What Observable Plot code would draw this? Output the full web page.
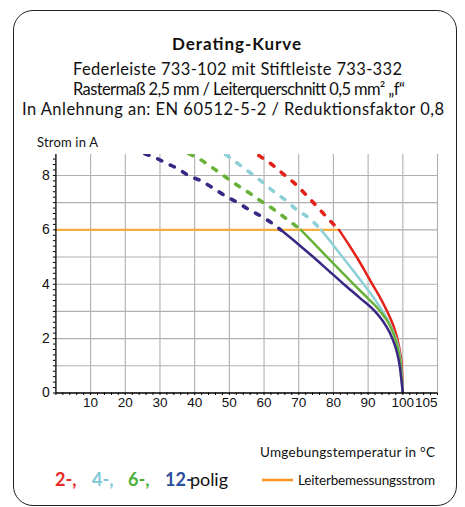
<!DOCTYPE html>
<html><head><meta charset="utf-8">
<script src="https://cdn.jsdelivr.net/npm/d3@7"></script>
<script src="https://cdn.jsdelivr.net/npm/@observablehq/plot@0.6"></script>
<style>
html,body{margin:0;padding:0;background:#fff;}
#page{position:relative;width:465px;height:507px;overflow:hidden;background:#fff;}
#frame{position:absolute;left:13px;top:10px;width:444px;height:496px;box-sizing:border-box;border:1.6px solid #222;border-radius:20px;}
#chart{position:absolute;left:0;top:140px;}
#overlay{position:absolute;left:0;top:0;pointer-events:none;}
</style></head>
<body><div id="page"><div id="frame"></div><div id="chart"></div><svg id="overlay" width="465" height="507"></svg></div>
<script>
// ---- data ----
const seriesNames = ["2-polig", "4-polig", "6-polig", "12-polig"];
const lineColors = ["#e3231b", "#8ed0d8", "#68b23a", "#3a2785"];
const legendColors = ["#e52b24", "#7ec8d8", "#4daf3a", "#2c4e9c"];
const legendLabels = ["2-,", "4-,", "6-,", "12-"];

// Umgebungstemperatur (°C) and Strom (A) per series
const temp2 = [58.5, 61.9, 65.4, 68.9, 72.3, 75.8, 79.2, 81.6, 84.2, 86.7, 89.0, 91.2, 93.5, 95.5, 97.2, 98.4, 99.2, 99.7, 100];
const amps2 = [8.73, 8.44, 8.07, 7.70, 7.26, 6.78, 6.31, 6.0, 5.5, 5.0, 4.5, 4.0, 3.5, 3.0, 2.5, 2.0, 1.5, 1.0, 0];
const temp4 = [48.9, 52.1, 55.6, 59.0, 62.5, 66.0, 69.4, 73.2, 76.4, 79.6, 82.6, 85.7, 88.7, 91.6, 94.2, 96.4, 98.0, 99.0, 99.5, 100];
const amps4 = [8.77, 8.47, 8.14, 7.81, 7.44, 7.11, 6.74, 6.41, 6.0, 5.5, 5.0, 4.5, 4.0, 3.5, 3.0, 2.5, 2.0, 1.5, 1.0, 0];
const temp6 = [38.3, 41.7, 45.5, 48.7, 52.4, 55.6, 59.3, 62.8, 66.3, 70.6, 74.4, 78.2, 82.0, 85.8, 89.8, 93.5, 96.2, 97.8, 98.8, 99.4, 100];
const amps6 = [8.80, 8.58, 8.25, 7.96, 7.63, 7.37, 7.04, 6.75, 6.42, 6.0, 5.5, 5.0, 4.5, 4.0, 3.5, 3.0, 2.5, 2.0, 1.5, 1.0, 0];
const temp12 = [25.6, 28.7, 32.2, 35.1, 38.3, 41.7, 45.5, 48.7, 52.4, 55.6, 59.3, 62.8, 64.8, 69.6, 74.2, 78.6, 83.0, 87.6, 92.0, 95.0, 97.0, 98.3, 99.1, 100];
const amps12 = [8.80, 8.65, 8.43, 8.25, 7.99, 7.81, 7.52, 7.26, 7.00, 6.75, 6.49, 6.20, 6.0, 5.5, 5.0, 4.5, 4.0, 3.5, 3.0, 2.5, 2.0, 1.5, 1.0, 0];

const ratedCurrent = 6; // Leiterbemessungsstrom
const tempTicks = [10, 20, 30, 40, 50, 60, 70, 80, 90, 100];
const extraTempTicks = [105];
const tempGrid = [10, 20, 30, 40, 50, 60, 70, 80, 90, 100, 110];
const currentTicks = [0, 2, 4, 6, 8];
const currentGrid = [1, 2, 3, 4, 5, 6, 7, 8];
const tempDomain = [0, 110];
const currentDomain = [0, 8.77];

// ---- build ----
const temps = [temp2, temp4, temp6, temp12];
const amps = [amps2, amps4, amps6, amps12];
const rows = [];
seriesNames.forEach((s, k) => temps[k].forEach((t, i) => rows.push({series: s, T: t, I: amps[k][i]})));

const lineMarks = [];
seriesNames.forEach((s, k) => {
  const pts = rows.filter(d => d.series === s);
  lineMarks.push(Plot.line(pts.filter(d => d.I >= ratedCurrent), {
    x: "T", y: "I", stroke: lineColors[k], strokeWidth: 3.6, strokeDasharray: "4.5,9.5",
    curve: "monotone-x", clip: true
  }));
  lineMarks.push(Plot.line(pts.filter(d => d.I <= ratedCurrent), {
    x: "T", y: "I", stroke: lineColors[k], strokeWidth: 2.5, curve: "monotone-x", clip: true
  }));
});
const ratedEnd = temp2[amps2.indexOf(ratedCurrent)];

const chart = Plot.plot({
  width: 465, height: 285,
  marginLeft: 55.4, marginRight: 28, marginTop: 14, marginBottom: 32.5,
  x: {domain: tempDomain},
  y: {domain: currentDomain},
  style: {fontFamily: "'Liberation Sans', Arial, sans-serif", color: "#111", background: "transparent", overflow: "visible"},
  marks: [
    Plot.gridX(tempGrid, {stroke: "#b0b0b0", strokeOpacity: 1, strokeWidth: 1.1}),
    Plot.gridY(currentGrid, {stroke: "#b0b0b0", strokeOpacity: 1, strokeWidth: 1.1}),
    Plot.ruleY([ratedCurrent], {x1: 0, x2: ratedEnd, stroke: "#f4ae3d", strokeWidth: 2.2}),
    ...lineMarks,
    Plot.ruleX([0], {stroke: "#000", strokeWidth: 1.3}),
    Plot.ruleY([0], {stroke: "#000", strokeWidth: 1.3}),
    Plot.axisX(d3.range(0, 111, 2), {tickSize: 2.5, fill: "none", label: null, stroke: "#000"}),
    Plot.axisY(d3.range(0, 44).map(i => i * 0.2), {tickSize: 2.5, fill: "none", label: null, stroke: "#000"}),
    Plot.axisX(tempTicks, {tickSize: 0, tickPadding: 4, fontSize: 13.5, label: null, fill: "#111"}),
    Plot.axisX(extraTempTicks, {tickSize: 0, tickPadding: 4, dx: 6, fontSize: 13.5, label: null, fill: "#111"}),
    Plot.axisY(currentTicks, {tickSize: 0, tickPadding: 6, fontSize: 14, label: null, fill: "#111"})
  ]
});
document.getElementById("chart").appendChild(chart);

// ---- titles, axis labels, legend ----
const ov = d3.select("#overlay");
const FONT = "Lato, 'Open Sans', sans-serif";
function txt(x, y, s, size, opts = {}) {
  const t = ov.append("text").attr("x", x).attr("y", y).attr("font-family", FONT)
    .attr("font-size", size).attr("fill", opts.fill || "#111").text(s);
  if (opts.anchor) t.attr("text-anchor", opts.anchor);
  if (opts.weight) t.attr("font-weight", opts.weight);
  if (opts.len) t.attr("textLength", opts.len);
  return t;
}
const titleLines = [
  "Federleiste 733-102 mit Stiftleiste 733-332",
  "Rastermaß 2,5 mm / Leiterquerschnitt 0,5 mm² „f“",
  "In Anlehnung an: EN 60512-5-2 / Reduktionsfaktor 0,8"
];
txt(172, 50, "Derating-Kurve", 17, {weight: "bold", len: 129});
txt(73, 75, titleLines[0], 16.5, {len: 329});
txt(73, 95, titleLines[1], 16.5, {len: 332});
txt(22, 115, titleLines[2], 16.5, {len: 422});
txt(37, 147, "Strom in A", 13, {len: 61});
txt(260, 457, "Umgebungstemperatur in °C", 13.5, {len: 175});
ov.append("line").attr("x1", 262).attr("x2", 293).attr("y1", 480).attr("y2", 480)
  .attr("stroke", "#f7941d").attr("stroke-width", 2.5);
txt(298, 485, "Leiterbemessungsstrom", 13.5, {len: 137});
const legX = [55, 92, 128, 165];
legendLabels.forEach((l, k) => txt(legX[k], 486, l, 18, {weight: "bold", fill: legendColors[k]}));
txt(190, 486, "polig", 18, {len: 38});
</script></body></html>
